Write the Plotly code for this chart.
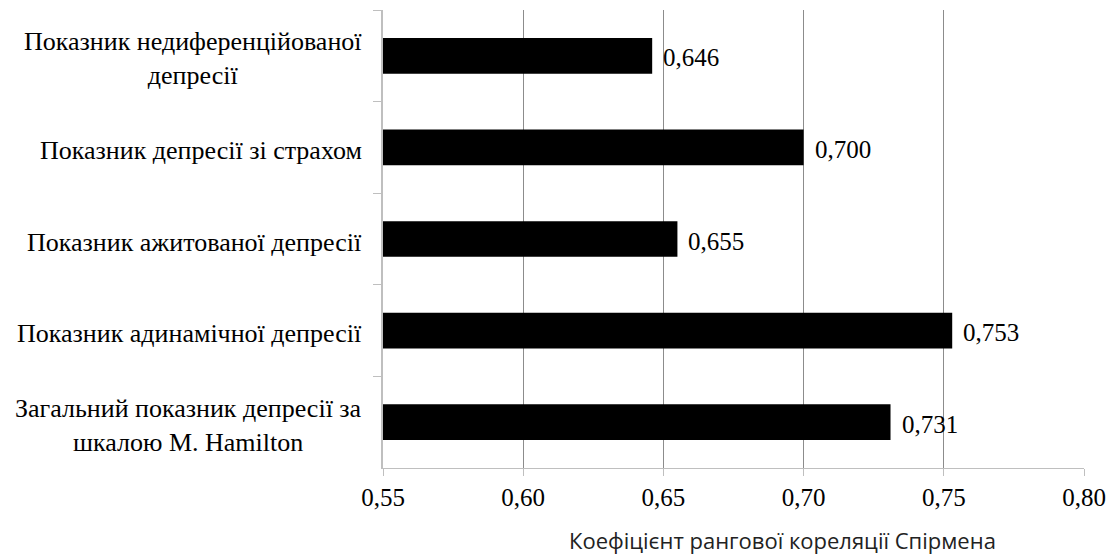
import plotly.graph_objects as go

# Spearman rank correlation of each depression indicator (top to bottom)
categories = [
    "Показник недиференційованої<br>депресії",
    "Показник депресії зі страхом",
    "Показник ажитованої депресії",
    "Показник адинамічної депресії",
    "Загальний показник депресії за<br>шкалою M. Hamilton",
]
values = [0.646, 0.700, 0.655, 0.753, 0.731]
value_labels = ["0,646", "0,700", "0,655", "0,753", "0,731"]
x_ticks = [0.55, 0.60, 0.65, 0.70, 0.75, 0.80]
x_tick_labels = ["0,55", "0,60", "0,65", "0,70", "0,75", "0,80"]
x_title = "Коефіцієнт рангової кореляції Спірмена"

serif = "Liberation Serif"

fig = go.Figure(
    go.Bar(
        x=values,
        y=categories,
        orientation="h",
        width=0.39,
        marker=dict(color="black", line=dict(width=0)),
        hoverinfo="skip",
    )
)

# value labels just past each bar end
for cat, v, lab in zip(categories, values, value_labels):
    fig.add_annotation(
        x=v, y=cat, text=lab, showarrow=False,
        xanchor="left", yanchor="middle", xshift=9, yshift=-2,
        font=dict(family=serif, size=25, color="black"),
    )

# category labels, centred within their own block, right-aligned to the axis
for cat in categories:
    fig.add_annotation(
        x=0, xref="paper", y=cat, text=cat, showarrow=False,
        xanchor="right", yanchor="middle", align="center", xshift=-19, yshift=-3,
        font=dict(family=serif, size=26, color="black"),
    )

# axis title, set to the right of the plot centre
fig.add_annotation(
    x=(782 - 383) / (1084 - 383), xref="paper",
    y=-(540 - 468) / (468 - 10), yref="paper",
    text=x_title, showarrow=False, xanchor="center", yanchor="middle",
    font=dict(family="Open Sans", size=22, color="#222222"),
)

fig.update_layout(
    width=1110, height=554,
    margin=dict(l=383, r=26, t=10, b=86, autoexpand=False),
    paper_bgcolor="white", plot_bgcolor="white",
    showlegend=False,
    xaxis=dict(
        range=[0.55, 0.80],
        tickvals=x_ticks, ticktext=x_tick_labels,
        tickfont=dict(family=serif, size=25, color="black"),
        showgrid=True, gridcolor="#8c8c8c", gridwidth=1,
        showline=True, linecolor="#bfbfbf", linewidth=1,
        ticks="outside", ticklen=7, tickcolor="#bfbfbf",
        zeroline=False, fixedrange=True, automargin=False,
    ),
    yaxis=dict(
        categoryorder="array", categoryarray=categories,
        autorange="reversed",
        showticklabels=False,
        tickson="boundaries", ticks="outside", ticklen=8, tickcolor="#bfbfbf",
        showline=True, linecolor="#bfbfbf", linewidth=2,
        showgrid=False, zeroline=False, fixedrange=True, automargin=False,
    ),
)

fig.write_html("out.html")
